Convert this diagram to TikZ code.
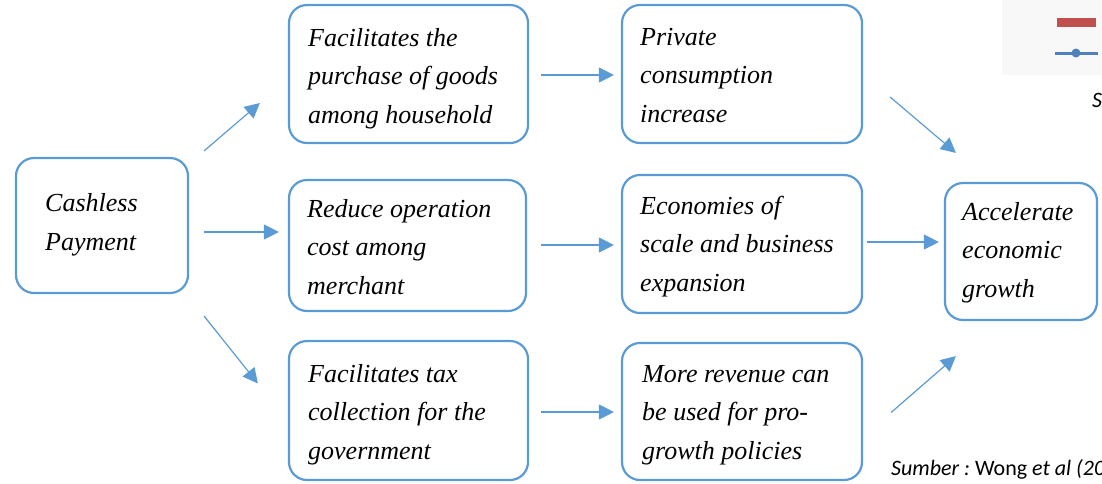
\documentclass[tikz,border=0pt]{standalone}
\usepackage{fontspec}
\setmainfont{Liberation Serif}
\newfontfamily\carlito{Carlito}
\usetikzlibrary{arrows.meta,calc}
\definecolor{boxblue}{HTML}{5B9BD5}
\definecolor{legred}{HTML}{C0504D}
\definecolor{legblue}{HTML}{4F81BD}
\definecolor{leggray}{HTML}{F8F8F8}
\tikzset{
  box/.style={draw=boxblue, line width=2.2pt, rounded corners=18pt, inner sep=0pt},
  txt/.style={anchor=base west, align=left, inner sep=0pt, font=\itshape\fontsize{26}{38.5}\selectfont},
  arr/.style={draw=boxblue, line width=1.2pt, -{Triangle[length=15pt,width=15pt]}}
}
\begin{document}
\begin{tikzpicture}[x=1pt,y=-1pt]
\useasboundingbox (0,0) rectangle (1102,483);
% legend fragment
\fill[leggray] (1002,0) rectangle (1102,75);
\fill[legred] (1057,18) rectangle (1096,27);
\draw[legblue, line width=3pt] (1055,53) -- (1098,53);
\fill[legblue] (1076,53) circle (4.5);
\node[anchor=base west, inner sep=0pt, font=\carlito\itshape\fontsize{22}{24}\selectfont] (s) at (1092,107) {S};
% boxes
\node[box, minimum width=172pt, minimum height=135pt] (A) at (102,225.5) {};
\node[box, minimum width=239pt, minimum height=138pt] (B1) at (408.5,74) {};
\node[box, minimum width=237pt, minimum height=131pt] (B2) at (407.5,245.5) {};
\node[box, minimum width=239pt, minimum height=139pt] (B3) at (408.5,410.5) {};
\node[box, minimum width=240pt, minimum height=138pt] (C1) at (742,74) {};
\node[box, minimum width=240pt, minimum height=138pt] (C2) at (742,244) {};
\node[box, minimum width=240pt, minimum height=137pt] (C3) at (742,411.5) {};
\node[box, minimum width=152pt, minimum height=137pt] (D) at (1021,251.5) {};
% texts (anchored at the baseline of the last line)
\node[txt] (tA) at (45,250) {Cashless\\Payment};
\node[txt] (tB1) at (308,123) {Facilitates the\\purchase of goods\\among household};
\node[txt] (tB2) at (307,294) {Reduce operation\\cost among\\merchant};
\node[txt] (tB3) at (308,459) {Facilitates tax\\collection for the\\government};
\node[txt] (tC1) at (640,122) {Private\\consumption\\increase};
\node[txt] (tC2) at (640,291) {Economies of\\scale and business\\expansion};
\node[txt] (tC3) at (642,459) {More revenue can\\be used for pro-\\growth policies};
\node[txt] (tD) at (962,297) {Accelerate\\economic\\growth};
% arrows
\draw[arr] ([shift={(15,-6)}]A.north east) -- ([shift={(-28,29)}]B1.west);
\draw[arr] ([shift={(15,6.5)}]A.east) -- ([shift={(-9,-13.5)}]B2.west);
\draw[arr] ([shift={(15,22)}]A.south east) -- ([shift={(-30,-27)}]B3.west);
\draw[arr] ([shift={(12,1)}]B1.east) -- ([shift={(-7,1)}]C1.west);
\draw[arr] ([shift={(14,-0.5)}]B2.east) -- ([shift={(-7,1)}]C2.west);
\draw[arr] ([shift={(12,1.5)}]B3.east) -- ([shift={(-7,0.5)}]C3.west);
\draw[arr] ([shift={(27,23)}]C1.east) -- ([shift={(12,-29)}]D.north west);
\draw[arr] ([shift={(4,-2)}]C2.east) -- ([shift={(-5,-9.5)}]D.west);
\draw[arr] ([shift={(28,1)}]C3.east) -- ([shift={(12,35)}]D.south west);
% source
\node[anchor=base west, inner sep=0pt, font=\carlito\fontsize{22}{24}\selectfont] (src) at (891,475) {\itshape Sumber :\upshape\ Wong \itshape et al (20};
\end{tikzpicture}
\end{document}
